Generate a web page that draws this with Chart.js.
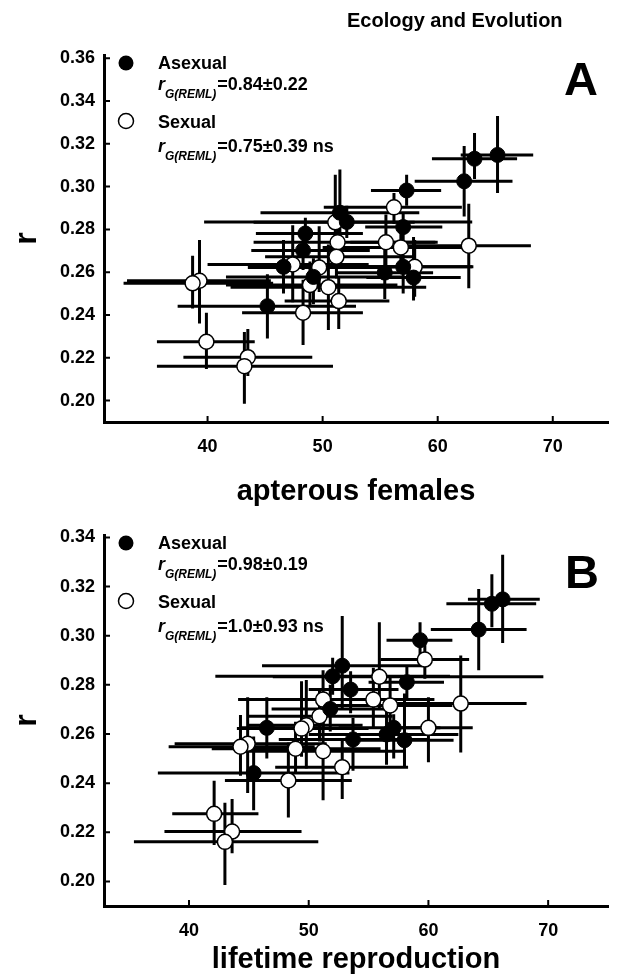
<!doctype html>
<html>

<head>
  <meta charset="utf-8">
  <script src="https://cdn.jsdelivr.net/npm/chart.js@4/dist/chart.umd.min.js"></script>
  <style>
    body { margin: 0; background: #fff; }
    .panel { position: absolute; left: 0; width: 617px; }
  </style>
</head>

<body>
  <div class="panel" style="top: 0;"><canvas id="chartA" width="617" height="515"></canvas></div>
  <div class="panel" style="top: 515px;"><canvas id="chartB" width="617" height="463"></canvas></div>
  <script>
    // r of each clone: [mean, lower, upper]  (same clones in both panels)
    const rAsexual = [
      [0.3148, 0.297, 0.333], [0.3130, 0.3035, 0.325], [0.3025, 0.286, 0.319], [0.2982, 0.291, 0.3055],
      [0.2878, 0.270, 0.308], [0.2835, 0.276, 0.291], [0.2811, 0.2735, 0.2875], [0.2781, 0.2685, 0.2855],
      [0.2702, 0.261, 0.280], [0.2625, 0.250, 0.275], [0.2625, 0.250, 0.268], [0.2598, 0.2475, 0.274],
      [0.2578, 0.245, 0.2665], [0.2575, 0.2468, 0.2765], [0.2441, 0.229, 0.259]
    ];
    const rSexual = [
      [0.2903, 0.2825, 0.297], [0.2833, 0.270, 0.3055], [0.2740, 0.262, 0.286], [0.2740, 0.262, 0.287],
      [0.2716, 0.260, 0.283], [0.2724, 0.2525, 0.292], [0.2672, 0.257, 0.278], [0.2636, 0.246, 0.282],
      [0.2622, 0.2507, 0.2815], [0.2625, 0.2485, 0.275], [0.2560, 0.236, 0.275], [0.2548, 0.243, 0.2677],
      [0.2540, 0.244, 0.265], [0.2530, 0.233, 0.273], [0.2465, 0.2335, 0.258], [0.2411, 0.226, 0.2565],
      [0.2275, 0.2148, 0.241], [0.2203, 0.2115, 0.2335], [0.2161, 0.1985, 0.232]
    ];

    // apterous females: [mean, lower, upper]
    const apterousAsexual = [
      [65.2, 62.0, 68.3], [63.2, 59.5, 66.9], [62.3, 58.0, 66.5], [57.3, 54.2, 60.3],
      [51.5, 44.6, 58.4], [52.1, 39.7, 63.0], [57.0, 53.7, 60.4], [48.5, 44.2, 53.5],
      [48.3, 43.8, 54.1], [46.6, 43.8, 56.5], [57.0, 51.0, 63.1], [55.4, 51.2, 59.6],
      [49.2, 41.6, 57.0], [57.9, 53.8, 62.0], [45.2, 37.4, 52.9]
    ];
    const apterousSexual = [
      [56.2, 50.1, 62.1], [51.1, 44.0, 58.0], [51.3, 44.0, 60.0], [55.5, 52.4, 59.8],
      [56.8, 50.0, 63.0], [62.7, 57.3, 68.1], [51.2, 45.0, 58.0], [47.4, 40.0, 54.0],
      [49.7, 43.5, 56.0], [58.0, 51.5, 63.0], [39.3, 33.0, 45.5], [38.7, 32.7, 45.7],
      [48.9, 41.6, 56.5], [50.5, 42.0, 59.0], [51.4, 46.7, 55.8], [48.3, 43.0, 53.5],
      [39.9, 35.6, 44.1], [43.5, 37.9, 49.1], [43.2, 35.6, 50.9]
    ];

    // lifetime reproduction: [mean, lower, upper]
    const lifetimeAsexual = [
      [66.2, 63.3, 69.3], [65.3, 61.5, 69.0], [64.2, 60.2, 68.2], [59.3, 56.5, 62.0],
      [52.8, 46.1, 59.5], [52.0, 42.2, 61.8], [58.2, 55.0, 61.3], [53.5, 50.0, 57.5],
      [51.8, 46.9, 56.5], [46.5, 44.3, 51.0], [57.1, 52.5, 61.0], [56.5, 50.0, 62.5],
      [53.7, 47.5, 60.0], [58.0, 54.0, 62.1], [45.4, 37.4, 53.4]
    ];
    const lifetimeSexual = [
      [59.7, 56.0, 63.4], [55.9, 47.0, 69.6], [51.2, 44.1, 58.5], [55.4, 50.5, 60.5],
      [56.8, 51.5, 62.0], [62.7, 57.2, 68.2], [50.9, 45.0, 57.0], [49.8, 45.0, 54.5],
      [49.4, 44.0, 55.0], [60.0, 56.3, 63.7], [44.9, 38.8, 51.5], [44.3, 38.3, 50.5],
      [48.9, 41.9, 56.0], [51.2, 44.5, 58.0], [52.8, 47.2, 58.3], [48.3, 43.0, 53.6],
      [42.1, 38.6, 45.8], [43.6, 37.95, 49.4], [43.0, 35.4, 50.8]
    ];

    const xTicks = [40, 50, 60, 70];
    const yTicksA = [0.20, 0.22, 0.24, 0.26, 0.28, 0.30, 0.32, 0.34, 0.36];
    const yTicksB = [0.20, 0.22, 0.24, 0.26, 0.28, 0.30, 0.32, 0.34];
    const statsA = ['=0.84\u00b10.22', '=0.75\u00b10.39 ns'];
    const statsB = ['=0.98\u00b10.19', '=1.0\u00b10.93 ns'];

    const FONT = '"Liberation Sans", Arial, Helvetica, sans-serif';

    function points(xs, rs) {
      return rs.map((r, i) => ({
        x: xs[i][0], xMin: xs[i][1], xMax: xs[i][2],
        y: r[0], yMin: r[1], yMax: r[2]
      }));
    }

    // cross-shaped error bars, drawn under the markers
    const errorBars = {
      id: 'errorBars',
      beforeDatasetsDraw(chart) {
        const { ctx, scales: { x, y } } = chart;
        ctx.save();
        ctx.strokeStyle = '#000';
        ctx.lineWidth = 3;
        chart.data.datasets.forEach((ds) => ds.data.forEach((p) => {
          const px = x.getPixelForValue(p.x);
          const py = y.getPixelForValue(p.y);
          ctx.beginPath();
          ctx.moveTo(x.getPixelForValue(p.xMin), py);
          ctx.lineTo(x.getPixelForValue(p.xMax), py);
          ctx.moveTo(px, y.getPixelForValue(p.yMin));
          ctx.lineTo(px, y.getPixelForValue(p.yMax));
          ctx.stroke();
        }));
        ctx.restore();
      }
    };

    // inward tick marks, legend block, panel letter
    const panelText = {
      id: 'panelText',
      afterDraw(chart, args, opts) {
        const { ctx, chartArea: ca, scales: { x, y } } = chart;
        ctx.save();
        ctx.strokeStyle = '#000';
        ctx.lineWidth = 2;
        ctx.beginPath();
        x.ticks.forEach((t) => {
          const px = x.getPixelForValue(t.value);
          ctx.moveTo(px, ca.bottom); ctx.lineTo(px, ca.bottom - 6);
        });
        y.ticks.forEach((t) => {
          const py = y.getPixelForValue(t.value);
          ctx.moveTo(ca.left, py); ctx.lineTo(ca.left + 6, py);
        });
        ctx.stroke();

        ctx.fillStyle = '#000';
        ctx.textBaseline = 'alphabetic';
        ctx.textAlign = 'left';
        if (opts.header) {
          ctx.font = 'bold 20px ' + FONT;
          ctx.fillText(opts.header, 347, 27);
        }
        ctx.font = 'bold 47px ' + FONT;
        ctx.fillText(opts.letter, opts.letterX, ca.top + opts.letterDy);

        const top = ca.top;
        const mx = 126, tx = 158;
        // markers
        ctx.beginPath();
        ctx.arc(mx, top + 8, 7.5, 0, Math.PI * 2);
        ctx.fill();
        ctx.beginPath();
        ctx.arc(mx, top + 66, 7.5, 0, Math.PI * 2);
        ctx.fillStyle = '#fff';
        ctx.fill();
        ctx.lineWidth = 1.5;
        ctx.stroke();
        ctx.fillStyle = '#000';

        ctx.font = 'bold 18px ' + FONT;
        ctx.fillText('Asexual', tx, top + 14);
        ctx.fillText('Sexual', tx, top + 72.5);

        const rLine = (yy, stat) => {
          ctx.font = 'italic bold 18px ' + FONT;
          ctx.fillText('r', tx, yy);
          let w = ctx.measureText('r').width;
          ctx.font = 'italic bold 12px ' + FONT;
          ctx.fillText('G(REML)', tx + w, yy + 8);
          w += ctx.measureText('G(REML)').width;
          ctx.font = 'bold 18px ' + FONT;
          ctx.fillText(stat, tx + w + 1, yy);
        };
        rLine(top + 35, opts.stats[0]);
        rLine(top + 97, opts.stats[1]);
        ctx.restore();
      }
    };

    function makeChart(id, o) {
      return new Chart(document.getElementById(id).getContext('2d'), {
        type: 'scatter',
        data: {
          datasets: [{
            label: 'Asexual',
            data: points(o.xAsexual, rAsexual),
            pointRadius: 7.5,
            pointBackgroundColor: '#000',
            pointBorderColor: '#000',
            pointBorderWidth: 1
          }, {
            label: 'Sexual',
            data: points(o.xSexual, rSexual),
            pointRadius: 7.5,
            pointBackgroundColor: '#fff',
            pointBorderColor: '#000',
            pointBorderWidth: 1.5
          }]
        },
        options: {
          responsive: false,
          animation: false,
          layout: { padding: { top: o.padTop, right: 3, left: 0, bottom: 0 } },
          plugins: {
            legend: { display: false },
            tooltip: { enabled: false },
            panelText: { letter: o.letter, letterX: o.letterX, letterDy: o.letterDy, stats: o.stats, header: o.header }
          },
          scales: {
            x: {
              type: 'linear',
              min: o.xMin,
              max: o.xMax,
              afterBuildTicks: (s) => { s.ticks = xTicks.map((v) => ({ value: v })); },
              afterFit: (s) => { s.height = o.xAxisHeight; },
              grid: { display: false, drawTicks: false },
              border: { display: true, color: '#000', width: 3 },
              ticks: { color: '#000', padding: 14, font: { family: FONT, size: 18, weight: 'bold' } },
              title: {
                display: true, text: o.xTitle, color: '#000',
                font: { family: FONT, size: 29, weight: 'bold' },
                padding: { top: 0, bottom: o.xTitlePad }
              }
            },
            y: {
              type: 'linear',
              min: 0.19,
              max: o.yMax,
              afterBuildTicks: (s) => { s.ticks = o.yTicks.map((v) => ({ value: v })); },
              afterFit: (s) => { s.width = 104; },
              grid: { display: false, drawTicks: false },
              border: { display: true, color: '#000', width: 3 },
              ticks: {
                color: '#000', padding: 9,
                font: { family: FONT, size: 18, weight: 'bold' },
                callback: (v) => Number(v).toFixed(2)
              },
              title: {
                display: true, text: 'r', color: '#000',
                font: { family: FONT, size: 32, weight: 'bold' },
                padding: { top: 8, bottom: 0 }
              }
            }
          }
        },
        plugins: [errorBars, panelText]
      });
    }

    makeChart('chartA', {
      xAsexual: apterousAsexual, xSexual: apterousSexual,
      xMin: 31, xMax: 74.8, yMax: 0.3615, yTicks: yTicksA,
      padTop: 55, xAxisHeight: 93, xTitle: 'apterous females', xTitlePad: 6,
      letter: 'A', letterX: 564, letterDy: 40, stats: statsA, header: 'Ecology and Evolution'
    });

    makeChart('chartB', {
      xAsexual: lifetimeAsexual, xSexual: lifetimeSexual,
      xMin: 32.9, xMax: 75, yMax: 0.341, yTicks: yTicksB,
      padTop: 20, xAxisHeight: 72, xTitle: 'lifetime reproduction', xTitlePad: 1,
      letter: 'B', letterX: 565, letterDy: 53, stats: statsB
    });
  </script>
</body>

</html>
